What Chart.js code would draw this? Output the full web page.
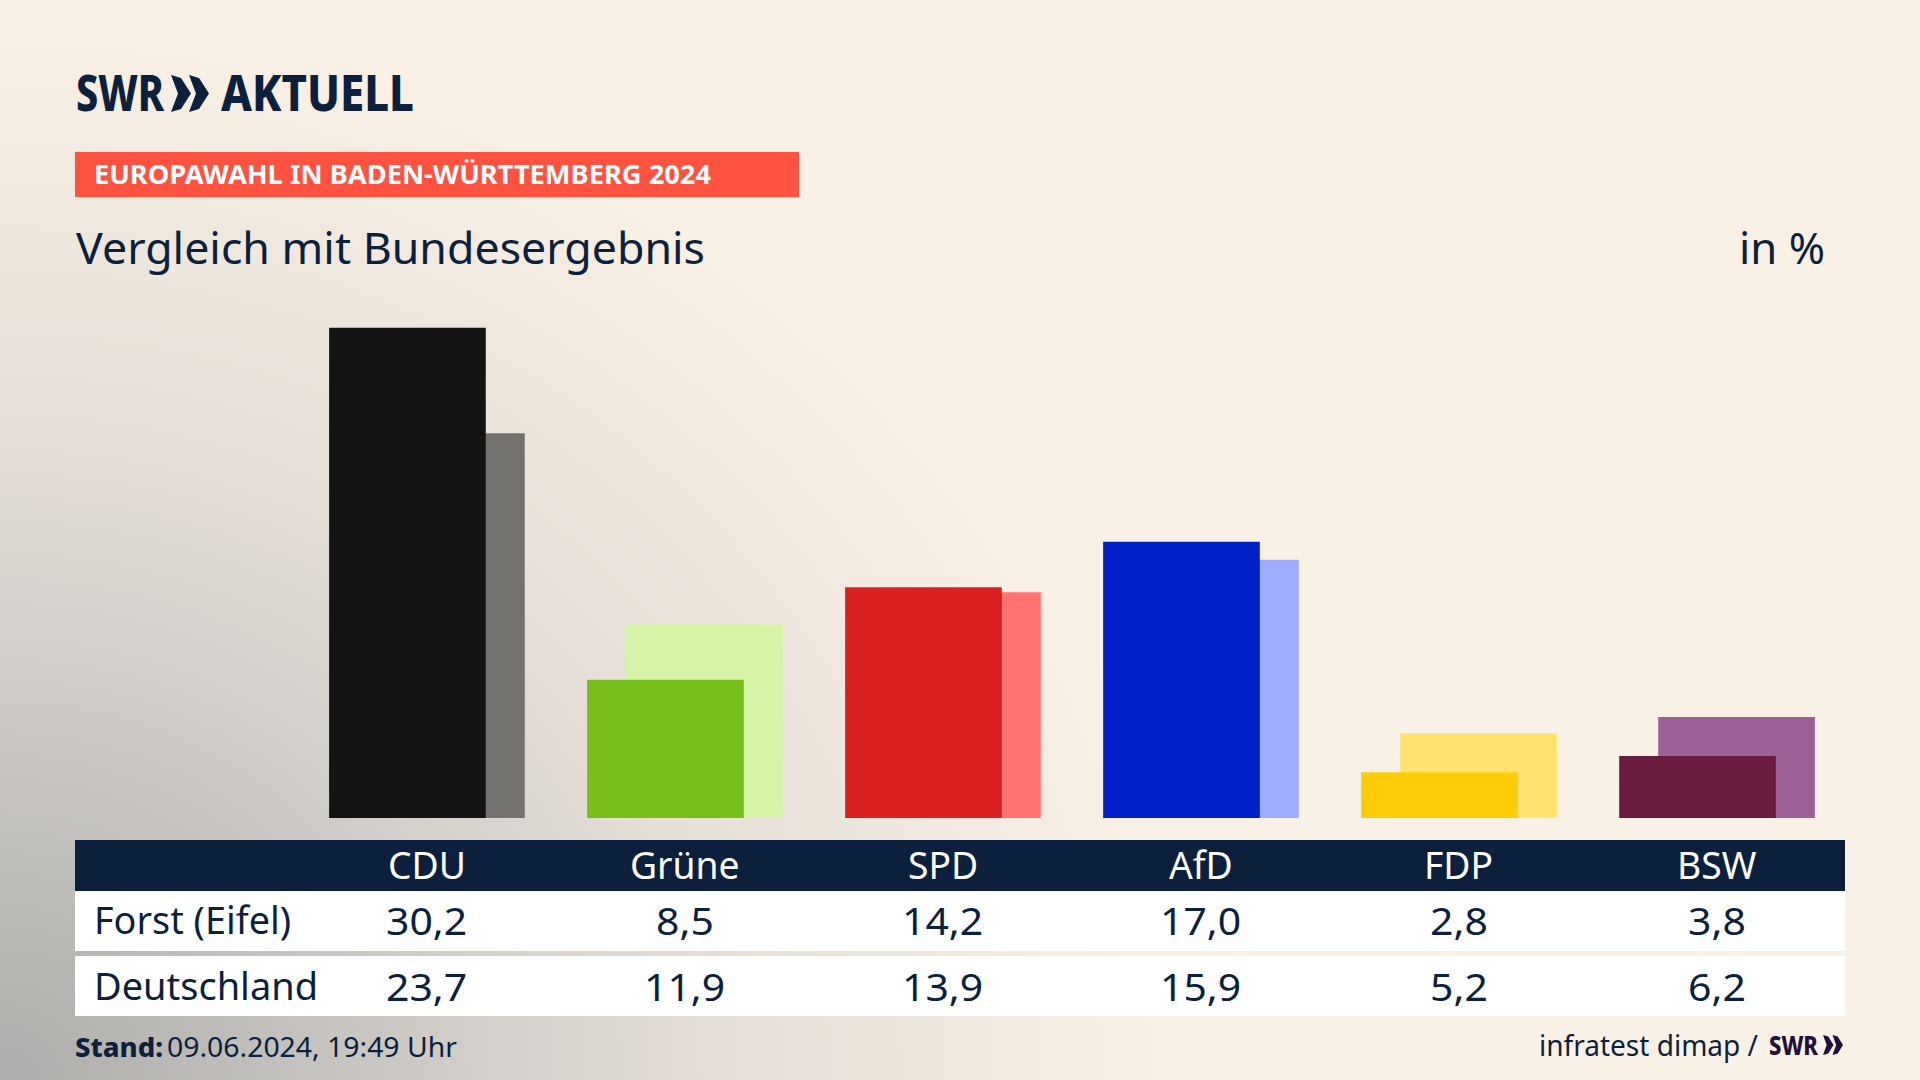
<!DOCTYPE html>
<html lang="de">
<head>
<meta charset="utf-8">
<title>Vergleich mit Bundesergebnis</title>
<script src="https://cdn.jsdelivr.net/npm/chart.js@4"></script>
<style>
  html, body { margin: 0; padding: 0; }
  body {
    width: 1920px; height: 1080px; overflow: hidden; position: relative;
    font-family: "Noto Sans", sans-serif; color: #0c1f3d;
    background: radial-gradient(ellipse 1200px 1080px at 0 100%, #acacaa 0%, #cbc8c4 32%, #e6e0d8 62%, #faf1e6 100%) #faf1e6;
  }
  .box { position: absolute; }
  .txt { position: absolute; white-space: nowrap; line-height: 1; transform-origin: 0 0; }
  #grafik { position: absolute; left: 75px; top: 298px; }
</style>
</head>
<body>
<div class="box" style="left:75px;top:152px;width:724px;height:45px;background:#ff5240"></div>
<div class="box" style="left:75px;top:840px;width:1770px;height:51px;background:#0c1f3d"></div>
<div class="box" style="left:75px;top:891px;width:1770px;height:60px;background:#fff"></div>
<div class="box" style="left:75px;top:956px;width:1770px;height:60px;background:#fff"></div>
<svg class="box" style="left:171px;top:75px" width="38" height="37" viewBox="0 0 38 37" fill="#0c1f3d">
  <polygon points="0,0 10,3 20,18.5 10,34 0,37 7,18.5"/>
  <polygon points="18,0 28,3 38,18.5 28,34 18,37 25,18.5"/>
</svg>
<svg class="box" style="left:1823px;top:1035px" width="20" height="20" viewBox="0 0 38 37" fill="#1f0f3d" preserveAspectRatio="none">
  <polygon points="0,0 10,3 20,18.5 10,34 0,37 7,18.5"/>
  <polygon points="18,0 28,3 38,18.5 28,34 18,37 25,18.5"/>
</svg>
<canvas id="grafik" width="1770" height="520"></canvas>
<script>
const parteien = ["CDU", "Grüne", "SPD", "AfD", "FDP", "BSW"];
const forst = [30.2, 8.5, 14.2, 17.0, 2.8, 3.8];
const deutschland = [23.7, 11.9, 13.9, 15.9, 5.2, 6.2];
const farbenForst = ["#141414", "#78be1a", "#d91f1f", "#0021c7", "#ffcc0a", "#6b1a40"];
const farbenDeutschland = ["#74726f", "#d6f5a8", "#ff7373", "#9eabff", "#ffe270", "#9c6097"];

// text helper, y is the baseline, w the wanted width in px
function text(str, o) {
  const el = document.createElement("div");
  el.className = "txt";
  el.textContent = str;
  el.style.fontSize = o.size + "px";
  el.style.fontWeight = o.weight || 400;
  el.style.color = o.color || "#0c1f3d";
  el.style.top = (o.y - o.size * 0.888) + "px";
  document.body.appendChild(el);
  const breite = el.getBoundingClientRect().width;
  const sx = o.w ? o.w / breite : (o.sx || 1);
  const links = o.center !== undefined ? o.center - breite * sx / 2 : o.x;
  el.style.left = links + "px";
  el.style.transform = "scaleX(" + sx + ")";
}

text("SWR", { x: 76, y: 111, size: 50, weight: 800, w: 88 });
text("AKTUELL", { x: 221, y: 111, size: 50, weight: 800, w: 193 });
text("EUROPAWAHL IN BADEN-WÜRTTEMBERG 2024", { x: 94, y: 184, size: 26, weight: 700, color: "#fff", w: 617 });
text("Vergleich mit Bundesergebnis", { x: 76, y: 264, size: 44, w: 629 });
text("in %", { x: 1739, y: 264, size: 44, w: 86 });

const mitteX = 427, abstandX = 258;
const komma = (v) => v.toFixed(1).replace(".", ",");
parteien.forEach((p, i) => {
  const c = mitteX + i * abstandX;
  text(p, { center: c, y: 879, size: 38, color: "#fff", sx: 0.98 });
  text(komma(forst[i]), { center: c, y: 935, size: 39, sx: 1.05 });
  text(komma(deutschland[i]), { center: c, y: 1001, size: 39, sx: 1.05 });
});
text("Forst (Eifel)", { x: 94, y: 934, size: 38, w: 197 });
text("Deutschland", { x: 94, y: 1000, size: 38, w: 224 });
text("Stand:", { x: 75, y: 1057, size: 27, weight: 800, w: 88 });
text("09.06.2024, 19:49 Uhr", { x: 167, y: 1057, size: 27, w: 290 });
text("infratest dimap /", { x: 1539, y: 1056, size: 29, w: 219 });
text("SWR", { x: 1769, y: 1055, size: 27, weight: 800, color: "#1f0f3d", w: 49 });

// bars of one party overlap, so x is a number and not a category
const versatz = 0.0756;
const punkte = (werte, d) => werte.map((v, i) => ({ x: i + d, y: v }));

new Chart(document.getElementById("grafik"), {
  type: "bar",
  data: {
    datasets: [
      { label: "Forst (Eifel)", data: punkte(forst, -versatz), backgroundColor: farbenForst, barThickness: 156, grouped: false },
      { label: "Deutschland", data: punkte(deutschland, versatz), backgroundColor: farbenDeutschland, barThickness: 156, grouped: false },
    ],
  },
  options: {
    responsive: false,
    animation: false,
    devicePixelRatio: 1,
    layout: { padding: 0 },
    plugins: { legend: { display: false }, tooltip: { enabled: false } },
    scales: {
      x: { type: "linear", display: false, offset: false, min: -1.364, max: 5.496 },
      y: { display: false, min: 0, max: 32.05 },
    },
  },
});
</script>
</body>
</html>
